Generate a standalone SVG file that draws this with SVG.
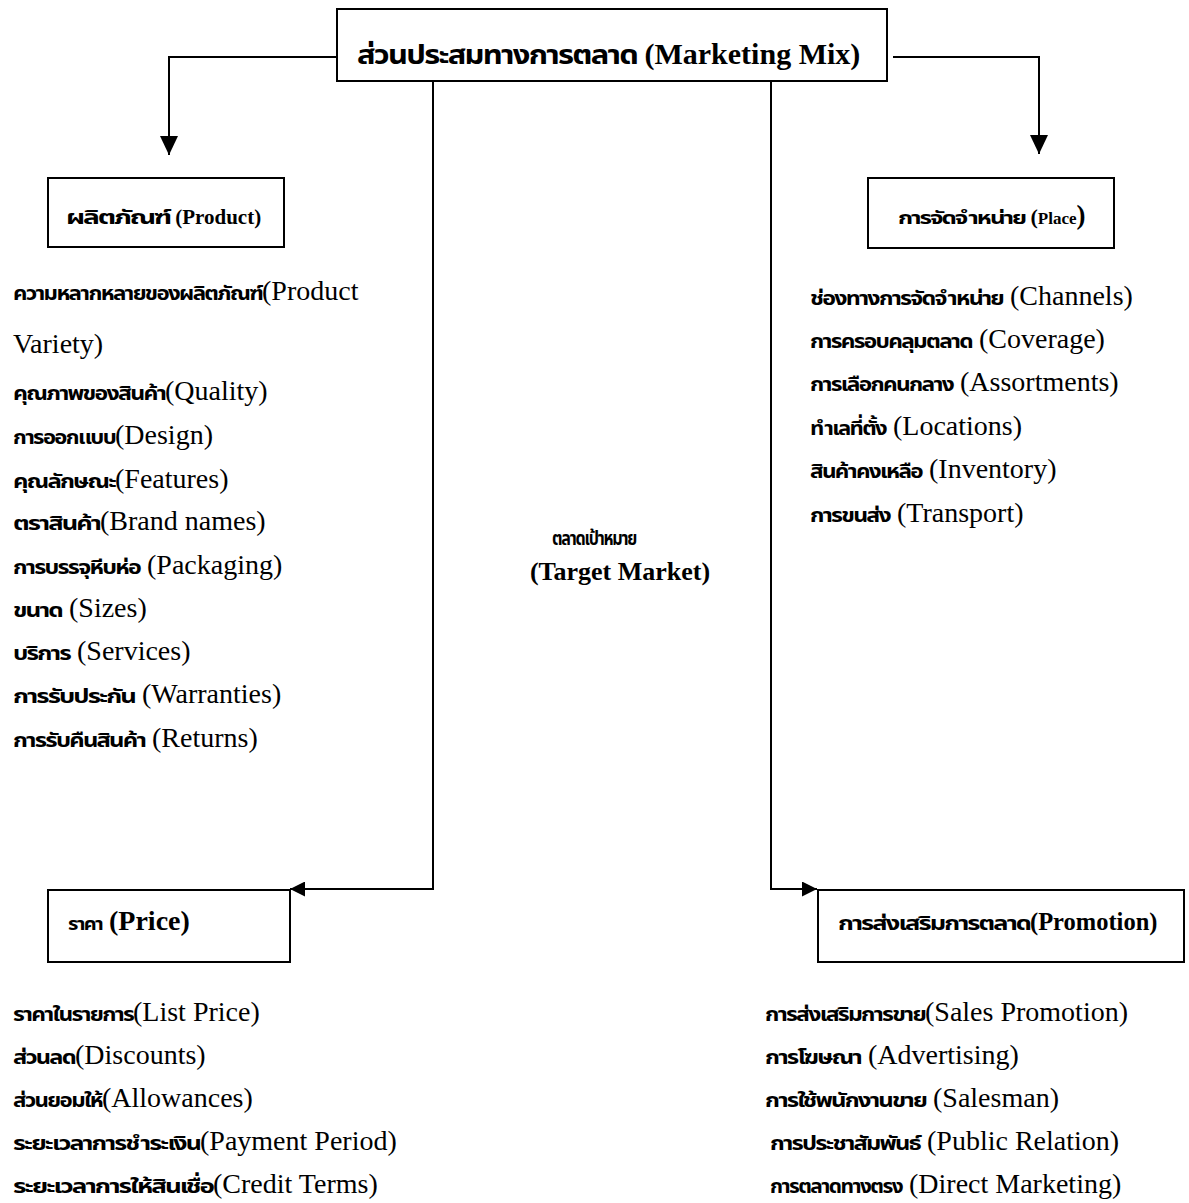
<svg xmlns="http://www.w3.org/2000/svg" width="1189" height="1203" viewBox="0 0 1189 1203">
<style>
.box{fill:#fff;stroke:#000;stroke-width:2}
.ln{fill:none;stroke:#000;stroke-width:2}
text{font-family:"Liberation Serif","Times New Roman","Noto Sans Thai",serif;fill:#000}
.hd{font-weight:bold}
.it{font-size:28px}
.th{font-weight:bold;font-size:20px;letter-spacing:-1.5px}
.tc{letter-spacing:-1.5px}
</style>
<defs>
<marker id="ahBig" viewBox="0 0 19 18" refX="19" refY="9" markerWidth="19" markerHeight="18" markerUnits="userSpaceOnUse" orient="auto"><path d="M0,0 L19,9 L0,18 z" fill="#000"/></marker>
<marker id="ahSmall" viewBox="0 0 15 15" refX="15" refY="7.5" markerWidth="15" markerHeight="15" markerUnits="userSpaceOnUse" orient="auto"><path d="M0,0 L15,7.5 L0,15 z" fill="#000"/></marker>
</defs>
<rect width="1189" height="1203" fill="#fff"/>
<g id="connectors">
<path class="ln" d="M337,57 H169 V155" marker-end="url(#ahBig)"/>
<path class="ln" d="M893,57 H1039 V154" marker-end="url(#ahBig)"/>
<path class="ln" d="M433,81 V889 H290" marker-end="url(#ahSmall)"/>
<path class="ln" d="M771,81 V889 H817" marker-end="url(#ahSmall)"/>
</g>
<g id="marketing-mix">
<rect class="box" x="337" y="9" width="550" height="72"/>
<text class="hd" x="357" y="64" font-size="30"><tspan class="tc" font-size="26.5" textLength="280" lengthAdjust="spacingAndGlyphs">ส่วนประสมทางการตลาด</tspan> (Marketing Mix)</text>
</g>
<g id="product">
<rect class="box" x="48" y="178" width="236" height="69"/>
<text class="hd" x="66" y="224" font-size="21"><tspan class="tc" font-size="19" textLength="104" lengthAdjust="spacingAndGlyphs">ผลิตภัณฑ์</tspan> (Product)</text>
</g>
<g id="place">
<rect class="box" x="868" y="178" width="246" height="70"/>
<text class="hd" x="898" y="224" font-size="22"><tspan class="tc" font-size="18" textLength="127" lengthAdjust="spacingAndGlyphs">การจัดจำหน่าย</tspan> (<tspan font-size="17">Place</tspan><tspan font-size="27">)</tspan></text>
</g>
<g id="price">
<rect class="box" x="48" y="890" width="242" height="72"/>
<text class="hd" x="68" y="930" font-size="28"><tspan class="tc" font-size="18" textLength="34" lengthAdjust="spacingAndGlyphs">ราคา</tspan> (Price)</text>
</g>
<g id="promotion">
<rect class="box" x="818" y="890" width="366" height="72"/>
<text class="hd" x="838" y="930" font-size="24.5"><tspan class="tc" font-size="20" textLength="192" lengthAdjust="spacingAndGlyphs">การส่งเสริมการตลาด</tspan>(Promotion)</text>
</g>
<g id="target-market">
<text class="hd tc" x="594" y="545" font-size="19.5" text-anchor="middle" textLength="84" lengthAdjust="spacingAndGlyphs">ตลาดเป้าหมาย</text>
<text class="hd" x="620" y="580" font-size="26" text-anchor="middle">(Target Market)</text>
</g>
<g id="product-items" class="it">
<text x="13" y="300"><tspan class="th" textLength="249" lengthAdjust="spacingAndGlyphs">ความหลากหลายของผลิตภัณฑ์</tspan>(Product</text>
<text x="13" y="353">Variety)</text>
<text x="13" y="400"><tspan class="th" textLength="152" lengthAdjust="spacingAndGlyphs">คุณภาพของสินค้า</tspan>(Quality)</text>
<text x="13" y="444"><tspan class="th" textLength="102" lengthAdjust="spacingAndGlyphs">การออกแบบ</tspan>(Design)</text>
<text x="13" y="488"><tspan class="th" textLength="102" lengthAdjust="spacingAndGlyphs">คุณลักษณะ</tspan>(Features)</text>
<text x="13" y="530"><tspan class="th" textLength="87" lengthAdjust="spacingAndGlyphs">ตราสินค้า</tspan>(Brand names)</text>
<text x="13" y="574"><tspan class="th" textLength="127" lengthAdjust="spacingAndGlyphs">การบรรจุหีบห่อ</tspan> (Packaging)</text>
<text x="13" y="617"><tspan class="th" textLength="49" lengthAdjust="spacingAndGlyphs">ขนาด</tspan> (Sizes)</text>
<text x="13" y="660"><tspan class="th" textLength="57" lengthAdjust="spacingAndGlyphs">บริการ</tspan> (Services)</text>
<text x="13" y="703"><tspan class="th" textLength="122" lengthAdjust="spacingAndGlyphs">การรับประกัน</tspan> (Warranties)</text>
<text x="13" y="747"><tspan class="th" textLength="132" lengthAdjust="spacingAndGlyphs">การรับคืนสินค้า</tspan> (Returns)</text>
</g>
<g id="place-items" class="it">
<text x="810" y="305"><tspan class="th" textLength="193" lengthAdjust="spacingAndGlyphs">ช่องทางการจัดจำหน่าย</tspan> (Channels)</text>
<text x="810" y="348"><tspan class="th" textLength="162" lengthAdjust="spacingAndGlyphs">การครอบคลุมตลาด</tspan> (Coverage)</text>
<text x="810" y="391"><tspan class="th" textLength="143" lengthAdjust="spacingAndGlyphs">การเลือกคนกลาง</tspan> (Assortments)</text>
<text x="810" y="435"><tspan class="th" textLength="76" lengthAdjust="spacingAndGlyphs">ทำเลที่ตั้ง</tspan> (Locations)</text>
<text x="810" y="478"><tspan class="th" textLength="112" lengthAdjust="spacingAndGlyphs">สินค้าคงเหลือ</tspan> (Inventory)</text>
<text x="810" y="522"><tspan class="th" textLength="80" lengthAdjust="spacingAndGlyphs">การขนส่ง</tspan> (Transport)</text>
</g>
<g id="price-items" class="it">
<text x="13" y="1021"><tspan class="th" textLength="120" lengthAdjust="spacingAndGlyphs">ราคาในรายการ</tspan>(List Price)</text>
<text x="13" y="1064"><tspan class="th" textLength="62" lengthAdjust="spacingAndGlyphs">ส่วนลด</tspan>(Discounts)</text>
<text x="13" y="1107"><tspan class="th" textLength="89" lengthAdjust="spacingAndGlyphs">ส่วนยอมให้</tspan>(Allowances)</text>
<text x="13" y="1150"><tspan class="th" textLength="187" lengthAdjust="spacingAndGlyphs">ระยะเวลาการชำระเงิน</tspan>(Payment Period)</text>
<text x="13" y="1193"><tspan class="th" textLength="200" lengthAdjust="spacingAndGlyphs">ระยะเวลาการให้สินเชื่อ</tspan>(Credit Terms)</text>
</g>
<g id="promotion-items" class="it">
<text x="765" y="1021"><tspan class="th" textLength="160" lengthAdjust="spacingAndGlyphs">การส่งเสริมการขาย</tspan>(Sales Promotion)</text>
<text x="765" y="1064"><tspan class="th" textLength="96" lengthAdjust="spacingAndGlyphs">การโฆษณา</tspan> (Advertising)</text>
<text x="765" y="1107"><tspan class="th" textLength="161" lengthAdjust="spacingAndGlyphs">การใช้พนักงานขาย</tspan> (Salesman)</text>
<text x="770" y="1150"><tspan class="th" textLength="150" lengthAdjust="spacingAndGlyphs">การประชาสัมพันธ์</tspan> (Public Relation)</text>
<text x="770" y="1193"><tspan class="th" textLength="132" lengthAdjust="spacingAndGlyphs">การตลาดทางตรง</tspan> (Direct Marketing)</text>
</g>
</svg>
